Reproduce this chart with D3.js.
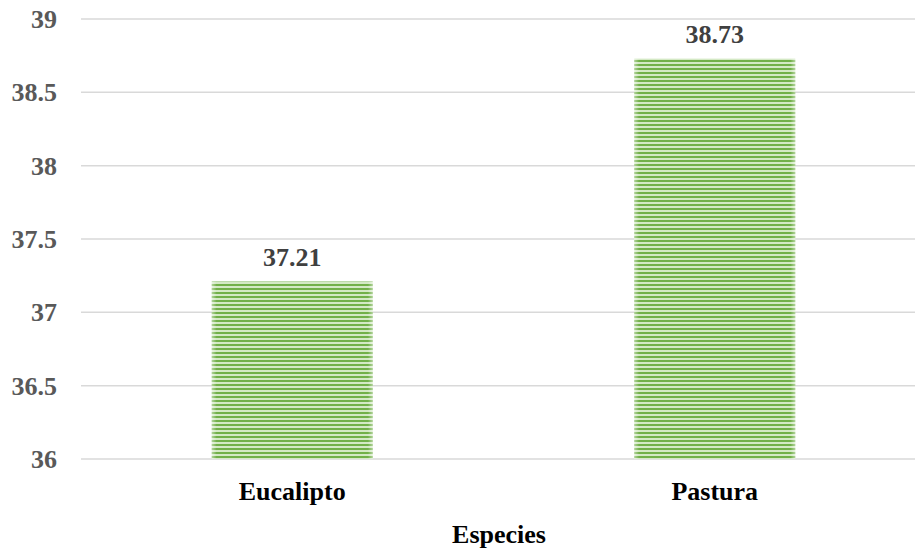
<!DOCTYPE html>
<html>
<head>
<meta charset="utf-8">
<script src="https://cdn.jsdelivr.net/npm/d3@7"></script>
</head>
<body style="margin:0">
<svg id="chart" width="915" height="552" font-family="Liberation Serif" font-weight="bold" font-size="26"></svg>
<script>
var width = 915;
var height = 552;

var categories = ["Eucalipto", "Pastura"];
var values = [37.21, 38.73];
var yTicks = [36, 36.5, 37, 37.5, 38, 38.5, 39];
var xTitle = "Especies";

var plotLeft = 81;
var plotRight = 926;
var plotTop = 19;
var plotBottom = 459;

var svg = d3.select("#chart");

var x = d3.scaleBand()
.domain(categories)
.range([plotLeft, plotRight])
.paddingInner(0.619)
.paddingOuter(0.3095);

var y = d3.scaleLinear()
.domain([36, 39])
.range([plotBottom, plotTop]);

function serif (sel) {
	sel.attr("font-family", "Liberation Serif")
	.style("font-family", "'Liberation Serif'")
	.style("font-weight", "bold")
	.style("font-size", "26px");
}

// striped fill, like the office "narrow horizontal" pattern
var defs = svg.append("defs");

var pattern = defs.append("pattern")
.attr("id", "stripes")
.attr("patternUnits", "userSpaceOnUse")
.attr("width", 8)
.attr("height", 4);

pattern.append("rect")
.attr("width", 8)
.attr("height", 4)
.attr("fill", "#d4e9c5");

pattern.append("rect")
.attr("y", 0)
.attr("width", 8)
.attr("height", 2)
.attr("fill", "#72b049");

var edge = defs.append("linearGradient")
.attr("id", "edgeFade")
.attr("x1", 0).attr("x2", 1)
.attr("y1", 0).attr("y2", 0);

edge.append("stop").attr("offset", "0").attr("stop-color", "#fff").attr("stop-opacity", 0.45);
edge.append("stop").attr("offset", "0.03").attr("stop-color", "#fff").attr("stop-opacity", 0);
edge.append("stop").attr("offset", "0.97").attr("stop-color", "#fff").attr("stop-opacity", 0);
edge.append("stop").attr("offset", "1").attr("stop-color", "#fff").attr("stop-opacity", 0.45);

// gridlines
svg.append("g")
.selectAll("line")
.data(yTicks)
.enter()
.append("line")
.attr("x1", plotLeft)
.attr("x2", width)
.attr("y1", function (d) { return y(d); })
.attr("y2", function (d) { return y(d); })
.attr("stroke", "#d9d9d9")
.attr("stroke-width", 1.5);

// y tick labels
svg.append("g")
.selectAll("text")
.data(yTicks)
.enter()
.append("text")
.call(serif)
.attr("x", 57)
.attr("y", function (d) { return y(d) + 9; })
.attr("text-anchor", "end")
.attr("fill", "#595959")
.text(function (d) { return d; });

// bars
var bars = svg.append("g")
.selectAll("g")
.data(values)
.enter()
.append("g");

bars.append("rect")
.attr("x", function (d, i) { return x(categories[i]); })
.attr("y", function (d) { return y(d); })
.attr("width", x.bandwidth())
.attr("height", function (d) { return plotBottom - y(d); })
.attr("fill", "url(#stripes)");

bars.append("rect")
.attr("x", function (d, i) { return x(categories[i]); })
.attr("y", function (d) { return y(d); })
.attr("width", x.bandwidth())
.attr("height", function (d) { return plotBottom - y(d); })
.attr("fill", "url(#edgeFade)");

// value labels
bars.append("text")
.call(serif)
.attr("x", function (d, i) { return x(categories[i]) + x.bandwidth() / 2; })
.attr("y", function (d) { return y(d) - 16; })
.attr("text-anchor", "middle")
.attr("fill", "#404040")
.text(function (d) { return d.toFixed(2); });

// category labels
svg.append("g")
.selectAll("text")
.data(categories)
.enter()
.append("text")
.call(serif)
.attr("x", function (d) { return x(d) + x.bandwidth() / 2; })
.attr("y", 500)
.attr("text-anchor", "middle")
.attr("fill", "#000")
.text(function (d) { return d; });

// axis title
svg.append("text")
.call(serif)
.attr("x", 499)
.attr("y", 543)
.attr("text-anchor", "middle")
.attr("fill", "#000")
.text(xTitle);
</script>
</body>
</html>
